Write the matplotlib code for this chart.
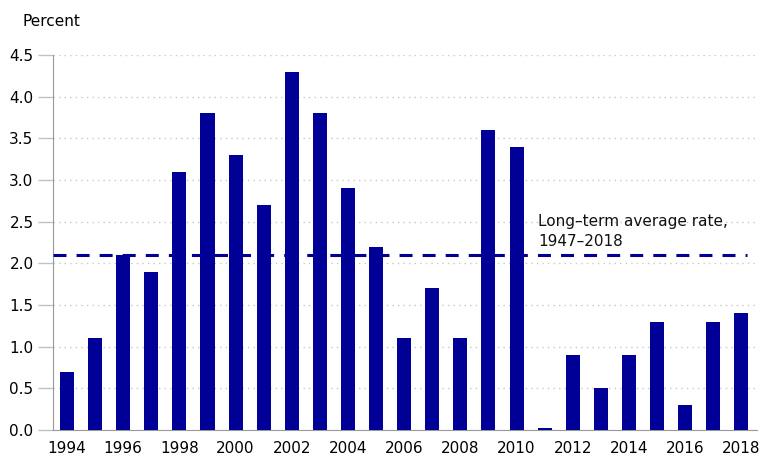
import numpy as np
import matplotlib.pyplot as plt

years = list(range(1994, 2019))
rates = [0.7, 1.1, 2.1, 1.9, 3.1, 3.8, 3.3, 2.7, 4.3, 3.8, 2.9, 2.2, 1.1, 1.7,
         1.1, 3.6, 3.4, 0.03, 0.9, 0.5, 0.9, 1.3, 0.3, 1.3, 1.4]
long_term_avg = 2.1
avg_label = "Long\u2013term average rate,\n1947\u20132018"

navy = "#000096"

fig = plt.figure(figsize=(7.6, 4.57), dpi=100)
ax = fig.add_axes([0.0697, 0.059, 0.926, 0.8206])

ax.bar(years, rates, width=0.5, color=navy, zorder=3)
ax.plot([years[0] - 0.5, years[-1] + 0.2], [long_term_avg] * 2, color=navy,
        linestyle=(0, (4.25, 3.3)), linewidth=2.2, solid_capstyle="butt",
        dash_capstyle="butt", zorder=4)
ax.text(2010.76, 2.38, avg_label, fontsize=11, color="#111111",
        ha="left", va="center", linespacing=1.45)

ax.set_xlim(years[0] - 0.5, years[-1] + 0.55)
ax.set_ylim(0, 4.5)
ax.set_yticks(np.arange(0, 4.51, 0.5))
ax.set_yticklabels([f"{v:.1f}" for v in np.arange(0, 4.51, 0.5)])
ax.set_xticks(years[::2])
ax.tick_params(axis="x", length=0, pad=8, labelsize=11)
ax.tick_params(axis="y", length=11, width=1, color="#b8c4cc", pad=3, labelsize=11)
ax.grid(axis="y", linestyle=(0, (1, 3)), color="#c8c8c8", linewidth=1, zorder=0)

for side in ["top", "right"]:
    ax.spines[side].set_visible(False)
ax.spines["left"].set_color("#999999")
ax.spines["bottom"].set_color("#999999")

fig.text(22 / 760, 1 - 22 / 457, "Percent", fontsize=11, ha="left", va="center")

plt.savefig("out.png", dpi=100)
